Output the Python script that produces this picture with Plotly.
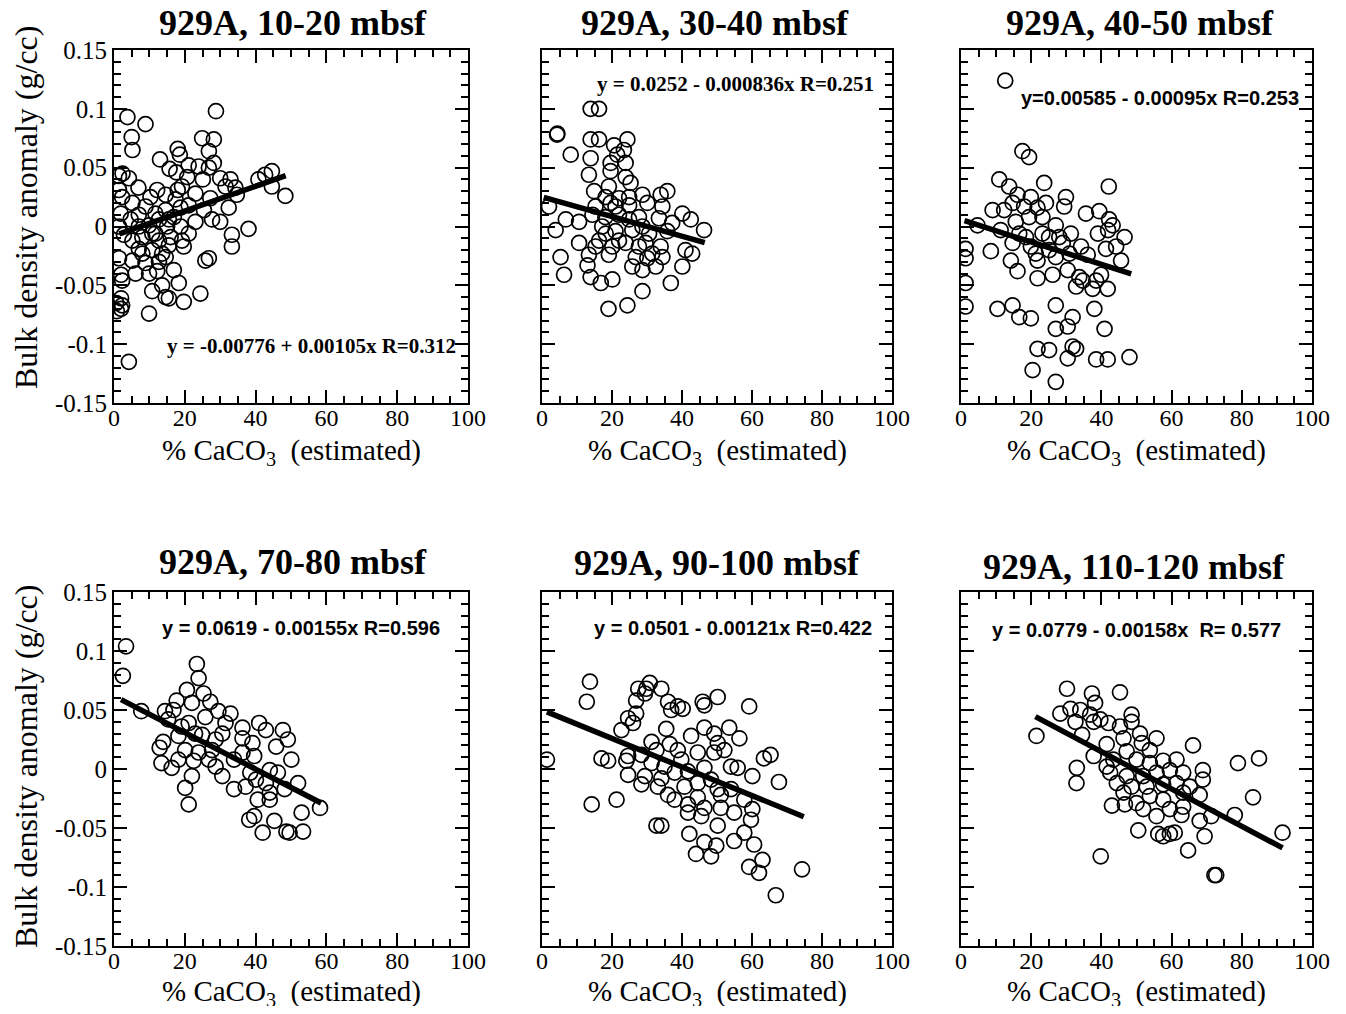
import plotly.graph_objects as go

# ---------------- data ----------------
titles = ["929A, 10-20 mbsf", "929A, 30-40 mbsf", "929A, 40-50 mbsf",
          "929A, 70-80 mbsf", "929A, 90-100 mbsf", "929A, 110-120 mbsf"]
eq_texts = ["y = -0.00776 + 0.00105x R=0.312",
            "y = 0.0252 - 0.000836x R=0.251",
            "y=0.00585 - 0.00095x R=0.253",
            "y = 0.0619 - 0.00155x R=0.596",
            "y = 0.0501 - 0.00121x R=0.422",
            "y = 0.0779 - 0.00158x  R= 0.577"]
fit_intercept = [-0.00776, 0.0252, 0.00585, 0.0619, 0.0501, 0.0779]
fit_slope = [0.00105, -0.000836, -0.00095, -0.00155, -0.00121, -0.00158]
fit_xmin = [1.5, 0.5, 1.0, 2.0, 1.4, 21.2]
fit_xmax = [48.5, 46.5, 48.5, 58.5, 74.8, 91.6]

x_ticks = [0, 20, 40, 60, 80, 100]
x_ticklabels = ["0", "20", "40", "60", "80", "100"]
x_minor = [5, 10, 15, 25, 30, 35, 45, 50, 55, 65, 70, 75, 85, 90, 95]
y_ticks = [-0.15, -0.1, -0.05, 0, 0.05, 0.1, 0.15]
y_ticklabels = ["-0.15", "-0.1", "-0.05", "0", "0.05", "0.1", "0.15"]
y_minor = [-0.14, -0.13, -0.12, -0.11, -0.09, -0.08, -0.07, -0.06, -0.04, -0.03, -0.02, -0.01,
           0.01, 0.02, 0.03, 0.04, 0.06, 0.07, 0.08, 0.09, 0.11, 0.12, 0.13, 0.14]

p1_x = [28.8, 3.8, 8.9, 5.0, 5.2, 24.9, 28.2, 26.8, 18.0, 18.6, 13.0, 28.2, 21.1, 23.9, 15.7, 17.6,
        26.8, 44.6, 42.7, 40.8, 2.4, 1.4, 4.2, 30.0, 32.9, 25.1, 20.7, 19.2, 18.0, 34.3, 34.7, 23.0,
        12.2, 10.3, 6.9, 1.4, 2.3, 5.2, 44.6, 48.4, 31.5, 27.2, 32.4, 25.4, 18.8, 14.6, 11.7, 7.0,
        1.9, 4.7, 23.0, 27.7, 30.0, 16.9, 12.7, 9.9, 15.0, 18.8, 38.0, 1.4, 2.8, 5.2, 8.0, 11.7,
        16.0, 21.1, 33.3, 33.3, 19.7, 15.5, 10.8, 7.0, 13.6, 1.4, 5.2, 8.9, 12.7, 25.8, 26.8, 16.9,
        12.2, 6.1, 2.0, 2.3, 18.3, 13.6, 10.8, 24.4, 14.6, 15.5, 19.7, 2.0, 2.3, 2.0, 9.9, 4.2,
        14.6, 17.4, 21.1, 8.9, 15.5, 10.8, 7.0, 19.2, 12.7, 8.0, 14.6, 9.9, 0.6, 0.8]
p1_y = [0.098, 0.093, 0.087, 0.076, 0.065, 0.075, 0.074, 0.064, 0.066, 0.061, 0.057, 0.054, 0.052,
        0.051, 0.049, 0.046, 0.050, 0.047, 0.044, 0.040, 0.045, 0.043, 0.041, 0.041, 0.040, 0.040,
        0.042, 0.034, 0.031, 0.033, 0.027, 0.028, 0.031, 0.025, 0.033, 0.031, 0.025, 0.020, 0.034,
        0.026, 0.034, 0.024, 0.016, 0.014, 0.016, 0.014, 0.011, 0.010, 0.011, 0.006, 0.004, 0.006,
        0.004, 0.008, 0.006, 0.001, 0.000, 0.000, -0.002, 0.000, -0.007, -0.012, -0.009, -0.006,
        -0.009, -0.006, -0.007, -0.017, -0.017, -0.016, -0.020, -0.019, -0.023, -0.027, -0.029,
        -0.031, -0.030, -0.029, -0.027, -0.037, -0.038, -0.040, -0.041, -0.046, -0.048, -0.050,
        -0.055, -0.057, -0.060, -0.061, -0.064, -0.061, -0.067, -0.070, -0.074, -0.115,
        0.027, 0.023, 0.018, 0.017, 0.006, -0.006, 0.000, -0.012, -0.012, -0.023, -0.026, -0.040,
        -0.065, -0.072]

p2_x = [13.9, 16.3, 4.4, 8.2, 13.9, 16.3, 24.4, 20.6, 23.4, 21.5, 13.9, 23.9, 19.6, 13.4, 19.6,
        23.9, 25.3, 14.9, 19.1, 35.8, 33.9, 28.7, 24.9, 22.0, 2.0, 15.3, 19.6, 24.9, 30.1, 34.4,
        40.1, 42.5, 46.3, 6.8, 10.6, 3.9, 14.4, 18.1, 22.0, 27.7, 33.4, 37.2, 17.2, 21.0, 25.8,
        30.6, 35.8, 10.6, 16.3, 20.1, 23.9, 29.6, 33.9, 41.0, 42.9, 5.3, 13.4, 19.1, 26.8, 30.1,
        34.4, 13.0, 25.8, 28.7, 32.5, 40.1, 6.3, 13.9, 16.8, 20.1, 36.8, 28.7, 24.4, 19.0,
        18.2, 22.0, 15.3, 24.9, 28.7, 21.0, 18.2, 27.7, 31.5, 4.3]
p2_y = [0.100, 0.100, 0.079, 0.061, 0.074, 0.074, 0.074, 0.069, 0.065, 0.061, 0.058, 0.054, 0.054,
        0.044, 0.047, 0.042, 0.037, 0.030, 0.034, 0.030, 0.027, 0.027, 0.025, 0.024, 0.017, 0.017,
        0.020, 0.018, 0.020, 0.017, 0.011, 0.006, -0.003, 0.006, 0.004, -0.003, 0.010, 0.008, 0.010,
        0.008, 0.007, 0.003, 0.000, -0.004, -0.003, -0.006, -0.004, -0.014, -0.012, -0.017, -0.014,
        -0.014, -0.017, -0.020, -0.023, -0.026, -0.024, -0.024, -0.026, -0.027, -0.026, -0.033,
        -0.034, -0.037, -0.034, -0.034, -0.041, -0.043, -0.048, -0.045, -0.048, -0.055, -0.067,
        -0.070, -0.006, -0.012, -0.017, 0.006, 0.000, 0.017, 0.025, -0.017, -0.023, 0.078]

p3_x = [12.6, 17.5, 19.4, 10.9, 13.7, 23.7, 42.1, 16.1, 19.9, 29.9, 9.0, 12.3, 14.7, 18.0, 21.8,
        24.2, 29.4, 35.6, 39.4, 42.2, 43.2, 46.6, 4.7, 11.3, 15.6, 19.4, 23.2, 27.0, 31.3, 39.0,
        41.9, 1.3, 1.3, 8.5, 14.7, 19.9, 25.1, 29.0, 34.2, 36.1, 41.3, 44.2, 14.2, 21.8, 27.0,
        45.6, 16.1, 21.8, 26.1, 30.4, 33.7, 34.7, 38.5, 39.9, 32.8, 37.5, 41.8, 1.3, 1.3, 10.4,
        14.7, 16.6, 19.9, 27.0, 31.8, 30.4, 27.0, 38.0, 40.9, 21.8, 25.1, 31.8, 32.8, 30.4, 38.5,
        41.8, 48.0, 20.4, 27.0, 18.5, 23.2, 28.0, 30.9, 21.3, 16.6, 25.1]
p3_y = [0.124, 0.064, 0.059, 0.040, 0.034, 0.037, 0.034, 0.027, 0.025, 0.025, 0.014, 0.014, 0.020,
        0.017, 0.016, 0.020, 0.017, 0.011, 0.013, 0.006, 0.001, -0.009, 0.001, -0.003, 0.004, 0.008,
        0.008, 0.001, -0.006, -0.006, -0.003, -0.019, -0.027, -0.021, -0.014, -0.017, -0.020,
        -0.014, -0.017, -0.024, -0.019, -0.017, -0.029, -0.029, -0.026, -0.029, -0.038, -0.044,
        -0.041, -0.037, -0.043, -0.046, -0.046, -0.041, -0.051, -0.053, -0.053, -0.048, -0.068,
        -0.070, -0.067, -0.077, -0.078, -0.067, -0.077, -0.085, -0.087, -0.070, -0.087, -0.104,
        -0.105, -0.102, -0.104, -0.112, -0.113, -0.113, -0.111, -0.122, -0.132, -0.009, -0.006,
        -0.009, -0.023, -0.023, -0.006, -0.009]

p4_x = [3.4, 2.5, 7.7, 23.4, 23.9, 20.6, 25.3, 17.7, 22.0, 27.2, 14.4, 16.8, 29.5, 32.9, 25.8,
        15.3, 21.1, 31.5, 36.3, 41.0, 42.9, 47.7, 49.1, 45.8, 12.9, 13.9, 18.2, 24.9, 28.7, 36.3,
        39.1, 20.1, 23.9, 27.7, 33.9, 39.6, 50.1, 13.4, 16.3, 22.5, 28.7, 30.6, 38.5, 44.0, 46.3,
        22.0, 33.9, 37.2, 42.9, 48.2, 52.0, 20.1, 40.6, 44.0, 21.1, 58.2, 53.0, 39.6, 38.2, 45.3,
        42.0, 48.7, 53.4, 49.6, 19.1, 22.9, 30.6, 36.3, 26.8, 40.1, 44.0, 18.2]
p4_y = [0.104, 0.079, 0.049, 0.089, 0.077, 0.067, 0.064, 0.058, 0.056, 0.057, 0.049, 0.050, 0.049,
        0.047, 0.044, 0.042, 0.039, 0.039, 0.035, 0.039, 0.033, 0.033, 0.025, 0.019, 0.018, 0.023,
        0.028, 0.029, 0.025, 0.026, 0.022, 0.016, 0.014, 0.016, 0.008, 0.011, 0.008, 0.005, 0.001,
        0.007, 0.002, -0.006, -0.003, -0.001, -0.003, -0.006, -0.017, -0.015, -0.012, -0.017,
        -0.012, -0.016, -0.026, -0.026, -0.030, -0.033, -0.037, -0.040, -0.043, -0.044, -0.054,
        -0.053, -0.053, -0.054, 0.036, 0.030, 0.030, 0.014, 0.008, -0.009, -0.020, 0.008]

p5_x = [1.4, 13.7, 12.8, 14.2, 21.3, 17.0, 18.9, 27.5, 29.4, 30.8, 34.1, 29.8, 26.9, 26.9, 24.6,
        26.0, 22.7, 36.0, 36.9, 38.8, 40.2, 45.9, 46.4, 50.2, 59.2, 35.5, 31.3, 36.5, 42.6, 46.4,
        49.2, 53.5, 56.4, 24.6, 24.1, 28.4, 32.7, 38.8, 44.5, 49.2, 52.1, 63.4, 65.3, 24.6, 29.4,
        34.1, 37.9, 41.7, 46.4, 54.0, 55.9, 60.1, 67.7, 28.4, 33.1, 40.7, 44.5, 50.2, 54.0, 36.0,
        44.5, 51.1, 57.8, 41.7, 46.4, 51.1, 54.9, 60.1, 41.7, 45.5, 59.7, 32.7, 34.1, 50.2, 42.1,
        57.8, 46.4, 49.8, 54.9, 60.6, 44.0, 48.3, 59.2, 63.0, 62.0, 74.3, 66.8, 35.0, 39.8, 31.3,
        48.3, 37.9, 50.2]
p5_y = [0.008, 0.074, 0.057, -0.030, -0.026, 0.009, 0.007, 0.068, 0.064, 0.073, 0.068, 0.068, 0.058,
        0.047, 0.043, 0.039, 0.033, 0.057, 0.050, 0.053, 0.051, 0.057, 0.054, 0.061, 0.053, 0.034,
        0.023, 0.021, 0.028, 0.035, 0.030, 0.035, 0.026, 0.011, 0.007, 0.012, 0.016, 0.016, 0.014,
        0.014, 0.016, 0.009, 0.012, -0.005, -0.006, -0.008, -0.003, -0.002, 0.001, 0.002, 0.001,
        -0.006, -0.011, -0.013, -0.015, -0.015, -0.012, -0.017, -0.017, -0.022, -0.024, -0.022,
        -0.026, -0.030, -0.033, -0.033, -0.037, -0.034, -0.037, -0.040, -0.043, -0.048, -0.048,
        -0.048, -0.055, -0.054, -0.062, -0.065, -0.061, -0.064, -0.072, -0.074, -0.083, -0.077,
        -0.088, -0.085, -0.107, 0.002, 0.008, 0.005, -0.009, -0.026, 0.022]

p6_x = [21.5, 30.2, 28.3, 31.2, 32.6, 34.0, 34.5, 33.0, 32.9, 37.3, 38.2, 36.8, 37.8, 39.7, 42.0,
        37.8, 45.3, 45.3, 48.6, 48.6, 51.0, 55.7, 46.3, 41.5, 43.4, 47.2, 51.5, 53.8, 66.1, 41.5,
        42.5, 44.4, 50.0, 53.8, 57.6, 61.4, 59.5, 63.3, 68.9, 68.9, 51.9, 55.7, 48.6, 52.9, 57.6,
        61.4, 65.2, 68.0, 43.0, 46.7, 50.0, 51.9, 57.6, 59.5, 63.3, 62.8, 68.0, 71.3, 78.0, 78.9,
        84.9, 83.2, 91.6, 50.5, 56.2, 57.6, 59.5, 60.9, 69.4, 64.7, 39.8, 72.2, 72.7, 53.8, 55.7,
        46.3, 63.3, 47.2]
p6_y = [0.028, 0.068, 0.047, 0.051, 0.040, 0.050, 0.029, 0.001, -0.012, 0.064, 0.056, 0.046, 0.040,
        0.042, 0.039, 0.011, 0.065, 0.036, 0.046, 0.040, 0.030, 0.026, 0.026, 0.021, 0.008, 0.015,
        0.022, 0.016, 0.020, 0.002, -0.003, -0.012, 0.008, 0.005, 0.007, 0.008, -0.001, -0.003,
        -0.001, -0.009, -0.006, -0.003, -0.015, -0.015, -0.013, -0.012, -0.015, -0.022, -0.031,
        -0.030, -0.029, -0.034, -0.026, -0.034, -0.032, -0.039, -0.044, -0.040, -0.039, 0.005,
        0.009, -0.024, -0.054, -0.052, -0.055, -0.057, -0.055, -0.054, -0.057, -0.069, -0.074,
        -0.090, -0.090, -0.023, -0.040, -0.020, -0.020, -0.006]

xs = [p1_x, p2_x, p3_x, p4_x, p5_x, p6_x]
ys = [p1_y, p2_y, p3_y, p4_y, p5_y, p6_y]

# ---------------- layout geometry (page pixels; page body has an 8px margin) ----------------
PAGE_W, PAGE_H, BODY = 1346, 1014, 8
W, H = PAGE_W - 2 * BODY, PAGE_H - 2 * BODY
col_px = [(114, 468), (542, 892), (961, 1312)]
row_px = [(50, 403), (592, 946)]
title_pos = [(293, 23), (715, 23), (1140, 23), (293, 562), (717, 563), (1134, 567)]
eq_pos = [(165, 346), (595, 84), (1019, 98), (160, 628), (592, 628), (990, 630)]
eq_fonts = ["Liberation Serif", "Liberation Serif", "Liberation Sans",
            "Liberation Sans", "Liberation Sans", "Liberation Sans"]
eq_sizes = [21, 21, 20, 20, 20, 20]
ytitle_cy = [208, 767]

def px(x):
    return (x - BODY) / W

def py(y):
    return 1 - (y - BODY) / H

TICK = dict(ticks="inside", tickcolor="black", mirror="ticks", showgrid=False,
            zeroline=False, fixedrange=True, automargin=False, tickmode="array",
            showline=True, linecolor="black", linewidth=2)

fig = go.Figure()
annotations = []
for i in range(6):
    r, c = divmod(i, 3)
    n = "" if i == 0 else str(i + 1)
    m = str(i + 7)
    xa, ya = "x" + n, "y" + n
    xm, ym = "x" + m, "y" + m
    fig.add_trace(go.Scatter(
        x=xs[i], y=ys[i], mode="markers", xaxis=xa, yaxis=ya,
        marker=dict(symbol="circle-open", size=15, color="black",
                    line=dict(width=1.7, color="black")),
        showlegend=False, hoverinfo="x+y"))
    fx = [fit_xmin[i], fit_xmax[i]]
    fy = [fit_intercept[i] + fit_slope[i] * v for v in fx]
    fig.add_trace(go.Scatter(
        x=fx, y=fy, mode="lines", xaxis=xa, yaxis=ya,
        line=dict(color="black", width=5.5), showlegend=False, hoverinfo="skip"))
    # empty helper trace on a twin subplot that only carries the minor ticks
    fig.add_trace(go.Scatter(x=[None], y=[None], xaxis=xm, yaxis=ym, mode="markers",
                             showlegend=False, hoverinfo="skip"))

    xdom = [px(col_px[c][0]), px(col_px[c][1])]
    ydom = [py(row_px[r][1]), py(row_px[r][0])]
    # major axes
    fig.layout["xaxis" + n] = dict(
        domain=xdom, anchor=ya, range=[0, 100], tickvals=x_ticks, ticktext=x_ticklabels,
        ticklen=13, tickwidth=2, ticklabelstandoff=-8,
        tickfont=dict(family="Liberation Serif", size=24, color="black"), **TICK)
    fig.layout["yaxis" + n] = dict(
        domain=ydom, anchor=xa, range=[-0.15, 0.15], tickvals=y_ticks, ticktext=y_ticklabels,
        ticklen=13, tickwidth=2, showticklabels=(c == 0),
        tickfont=dict(family="Liberation Serif", size=25, color="black"), **TICK)
    # minor-tick twin subplot on the same box
    fig.layout["xaxis" + m] = dict(
        domain=xdom, anchor=ym, range=[0, 100], tickvals=x_minor,
        ticklen=7, tickwidth=1.6, showticklabels=False, **TICK)
    fig.layout["yaxis" + m] = dict(
        domain=ydom, anchor=xm, range=[-0.15, 0.15], tickvals=y_minor,
        ticklen=7, tickwidth=1.6, showticklabels=False, **TICK)

    tx, ty = title_pos[i]
    annotations.append(dict(text="<b>" + titles[i] + "</b>", x=px(tx), y=py(ty),
                            xref="paper", yref="paper", showarrow=False,
                            xanchor="center", yanchor="middle",
                            font=dict(family="Liberation Serif", size=36, color="black")))
    ex, ey = eq_pos[i]
    annotations.append(dict(text="<b>" + eq_texts[i] + "</b>", x=px(ex), y=py(ey),
                            xref="paper", yref="paper", showarrow=False,
                            xanchor="left", yanchor="middle",
                            font=dict(family=eq_fonts[i], size=eq_sizes[i], color="black")))
    cx = (col_px[c][0] + col_px[c][1]) / 2
    xt_y = 452 if r == 0 else 993
    annotations.append(dict(text="% CaCO<sub>3</sub>\u00a0 (estimated)", x=px(cx), y=py(xt_y),
                            xref="paper", yref="paper", showarrow=False,
                            xanchor="center", yanchor="middle",
                            font=dict(family="Liberation Serif", size=29, color="black")))
    if c == 0:
        annotations.append(dict(text="Bulk density anomaly (g/cc)", x=px(26), y=py(ytitle_cy[r]),
                                xref="paper", yref="paper", showarrow=False, textangle=-90,
                                xanchor="center", yanchor="middle",
                                font=dict(family="Liberation Serif", size=32, color="black")))

fig.update_layout(template="none", width=W, height=H, autosize=False,
                  margin=dict(l=0, r=0, t=0, b=0, pad=0),
                  paper_bgcolor="white", plot_bgcolor="rgba(0,0,0,0)", annotations=annotations)

fig.write_html("out.html")
